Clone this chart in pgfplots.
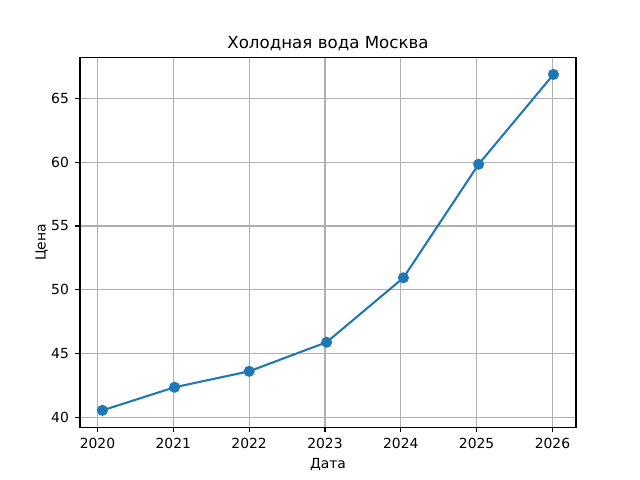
\documentclass[border=0pt]{standalone}
\usepackage{fontspec}
\setmainfont{DejaVu Sans}
\usepackage{pgfplots}
\pgfplotsset{compat=1.18}
\definecolor{mplblue}{HTML}{1F77B4}
\definecolor{mplgrid}{HTML}{B0B0B0}
\begin{document}
\begin{tikzpicture}
\path[use as bounding box] (-57.6pt,-38.02pt) rectangle (403.2pt,307.58pt);
\begin{axis}[
  at={(0pt,0pt)}, anchor=south west,
  scale only axis, width=357.12pt, height=266.11pt,
  xmin=2019.77, xmax=2026.31, ymin=39.23, ymax=68.2,
  xtick={2020,2021,2022,2023,2024,2025,2026},
  ytick={40,45,50,55,60,65},
  /pgf/number format/assume math mode=true,
  /pgf/number format/1000 sep={},
  tick label style={font=\fontsize{10}{12}\selectfont},
  label style={font=\fontsize{10}{12}\selectfont},
  title style={font=\fontsize{12}{14}\selectfont, yshift=-5pt},
  title={Холодная вода Москва},
  xlabel={Дата}, ylabel={Цена},
  grid=major,
  major grid style={color=mplgrid, line width=0.8pt},
  axis line style={line width=0.8pt},
  tick style={black, line width=0.8pt},
  tick align=outside, major tick length=3.5pt,
  xtick pos=bottom, ytick pos=left,
  xticklabel style={yshift=-1pt},
  yticklabel style={xshift=-1pt},
  xlabel style={yshift=0pt},
  ylabel style={yshift=-4.5pt},
]
\addplot[color=mplblue, line width=1.5pt, mark=*, mark size=3.2pt, mark options={solid, fill=mplblue, draw=none}]
coordinates {
(2020.066,40.55)
(2021.017,42.36)
(2022.000,43.61)
(2023.022,45.89)
(2024.034,50.94)
(2025.026,59.84)
(2026.013,66.88)
};
\end{axis}
\end{tikzpicture}
\end{document}
